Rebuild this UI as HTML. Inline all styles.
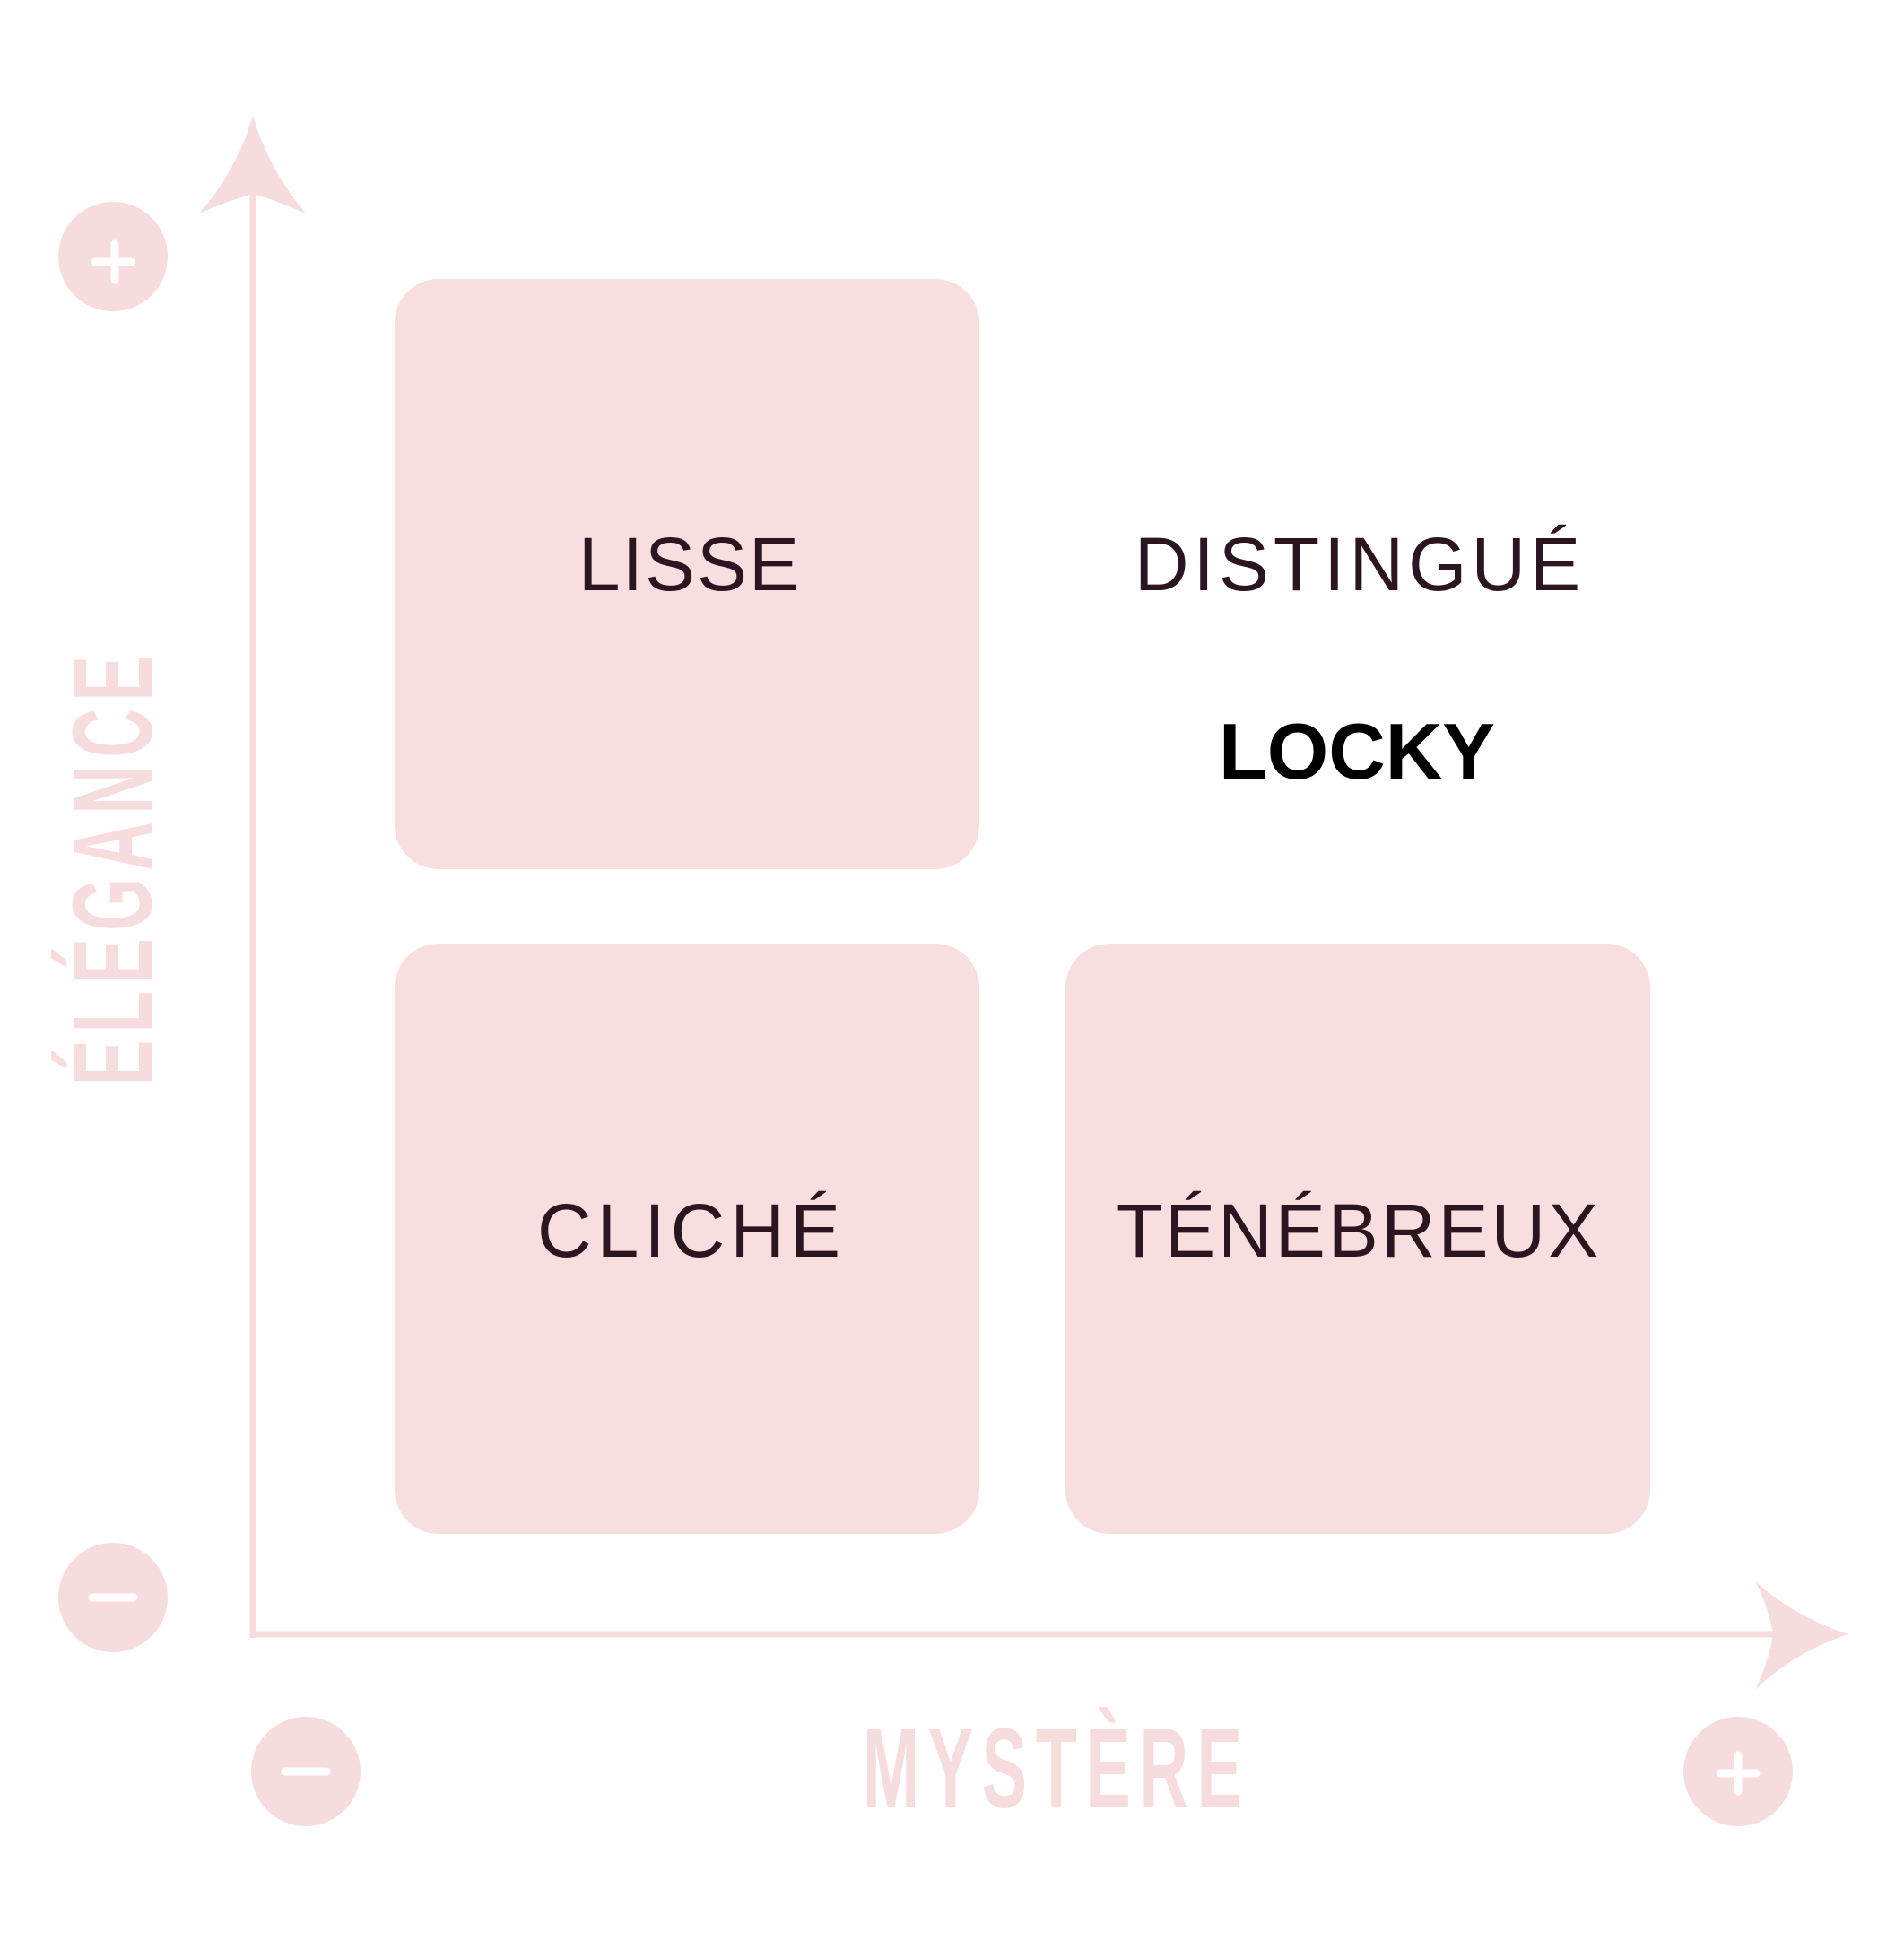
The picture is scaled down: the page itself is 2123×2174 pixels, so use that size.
<!DOCTYPE html>
<html><head><meta charset="utf-8"><style>
body{margin:0;background:#fff;}
svg{display:block}
</style></head><body>
<svg width="2123" height="2174" viewBox="0 0 2123 2174" xmlns="http://www.w3.org/2000/svg">
<g fill="#f8dedf">
<rect x="440" y="311" width="652" height="658" rx="49"/>
<rect x="440" y="1052" width="652" height="658" rx="49"/>
<rect x="1188" y="1052" width="652" height="658" rx="49"/>
</g>
<g stroke="#f6dcdd" stroke-width="7" fill="none">
<line x1="282" y1="215" x2="282" y2="1826"/>
<line x1="279" y1="1822" x2="1985" y2="1822"/>
</g>
<g fill="#f6dcdd">
<path d="M282 129 Q300 190 341 238 Q310 224 282 216 Q254 224 222 238 Q264 190 282 129Z"/>
<path d="M2061 1822 Q2000 1842 1957 1884 Q1972 1853 1977 1822 Q1972 1791 1957 1763 Q2000 1802 2061 1822Z"/>
<circle cx="126" cy="286" r="61"/>
<circle cx="126" cy="1781" r="61"/>
<circle cx="341" cy="1975" r="61"/>
<circle cx="1938" cy="1975" r="61"/>
</g>
<g stroke="#fff" stroke-width="9" stroke-linecap="round">
<line x1="106" y1="292" x2="146" y2="292"/><line x1="128" y1="272" x2="128" y2="312"/>
<line x1="103" y1="1781" x2="149" y2="1781"/>
<line x1="318" y1="1975" x2="364" y2="1975"/>
<line x1="1918" y1="1977" x2="1958" y2="1977"/><line x1="1938" y1="1957" x2="1938" y2="1997"/>
</g>
<g font-family="'Liberation Sans',sans-serif" font-weight="bold" fill="#f6dcdd" font-size="126">
<text x="0" y="0" transform="translate(169,1210) rotate(-90) scale(0.6,1)" letter-spacing="14">ÉLÉGANCE</text>
<text x="0" y="0" transform="translate(962,2015) scale(0.6,1)" letter-spacing="16">MYSTÈRE</text>
</g>
<g font-family="'Liberation Sans',sans-serif" fill="#2a1520" font-size="84" text-anchor="middle">
<text x="769" y="658" letter-spacing="2">LISSE</text>
<text x="1516" y="658" letter-spacing="5">DISTINGUÉ</text>
<text x="771" y="1401" letter-spacing="6">CLICHÉ</text>
<text x="1515" y="1401" letter-spacing="3">TÉNÉBREUX</text>
</g>
<text x="1513" y="868" font-family="'Liberation Sans',sans-serif" font-weight="bold" font-size="88" text-anchor="middle" fill="#000">LOCKY</text>
</svg>
</body></html>
